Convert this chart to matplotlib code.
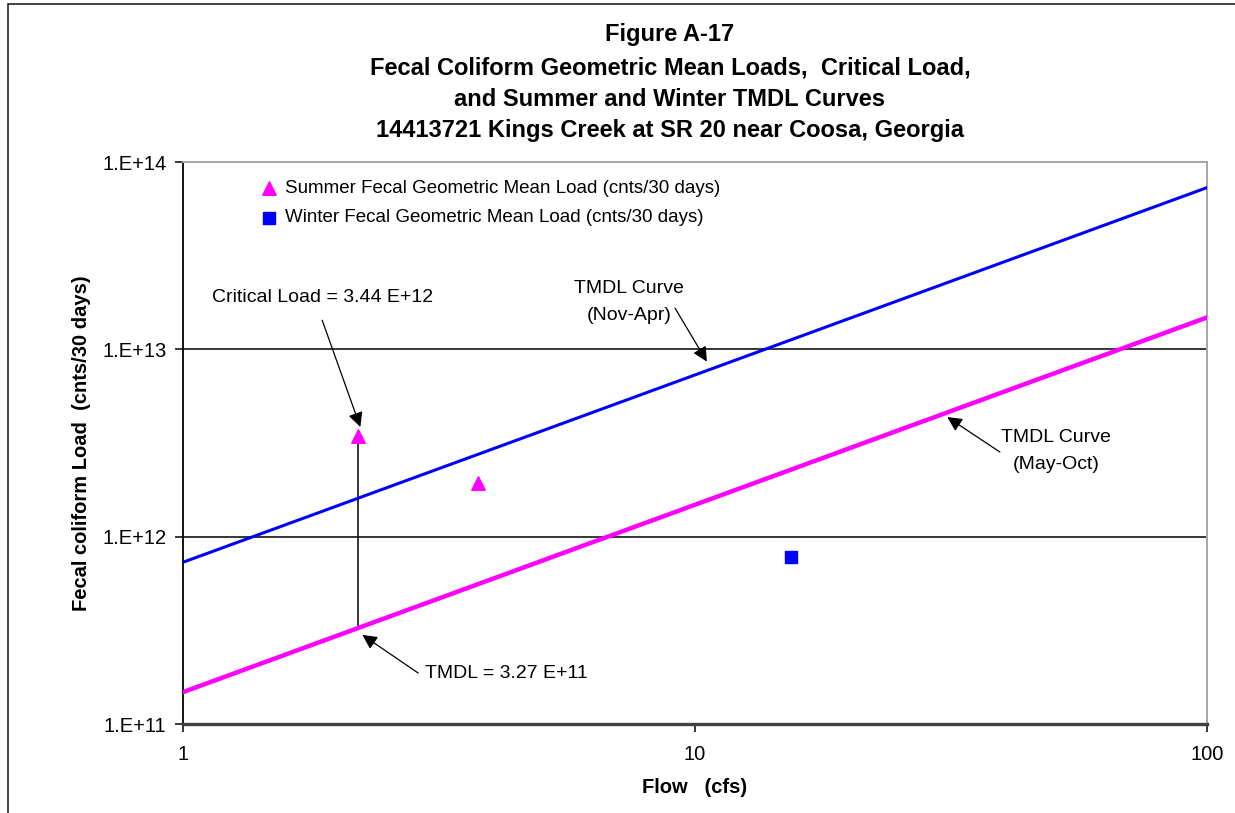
import matplotlib
matplotlib.use("Agg")
import matplotlib.pyplot as plt
from matplotlib.ticker import FixedLocator, NullLocator
from matplotlib.patches import Rectangle

plt.rcParams['font.family'] = ['Liberation Sans', 'DejaVu Sans']

# TMDL curves (load vs flow, end points of each straight line on log-log)
curve_flow = [1, 100]
summer_tmdl = [1.48e11, 1.48e13]
winter_tmdl = [7.3e11, 7.3e13]

# geometric mean loads
summer_flow = [2.2, 3.77]
summer_load = [3.44e12, 1.94e12]
winter_flow = [15.4]
winter_load = [7.8e11]

critical_flow = 2.2
critical_load = 3.44e12
critical_tmdl = 3.27e11

yticks = [1e11, 1e12, 1e13, 1e14]
ytick_labels = ['1.E+11', '1.E+12', '1.E+13', '1.E+14']
xticks = [1, 10, 100]
xtick_labels = ['1', '10', '100']

title_lines = ['Figure A-17',
               'Fecal Coliform Geometric Mean Loads,  Critical Load,',
               'and Summer and Winter TMDL Curves',
               '14413721 Kings Creek at SR 20 near Coosa, Georgia']

fig = plt.figure(figsize=(12.35, 8.13), dpi=100)
ax = fig.add_axes([183/1235, 1 - 724/813, 1024/1235, 562/813])

# outer frame round the whole chart
fig.patches.append(Rectangle((8/1235, -0.1), 1.2, 1 - 4/813 + 0.1, transform=fig.transFigure,
                             fill=False, edgecolor='#222222', linewidth=1.2))

ax.set_xscale('log')
ax.set_yscale('log')
ax.set_xlim(1, 100)
ax.set_ylim(1e11, 1e14)

for y in [1e12, 1e13]:
    ax.axhline(y, color='black', linewidth=1.1, zorder=1)

ax.plot(curve_flow, winter_tmdl, color='#0000ff', linewidth=2.2, zorder=3)
ax.plot(curve_flow, summer_tmdl, color='#ff00ff', linewidth=3.2, zorder=3)

ax.plot([critical_flow, critical_flow], [critical_tmdl, critical_load],
        color='black', linewidth=1.1, zorder=2)

ax.scatter(summer_flow, summer_load, marker='^', s=95, color='#ff00ff', zorder=4,
           label='Summer Fecal Geometric Mean Load (cnts/30 days)')
ax.scatter(winter_flow, winter_load, marker='s', s=80, color='#0000ff', zorder=4,
           label='Winter Fecal Geometric Mean Load (cnts/30 days)')

ax.legend(loc='upper left', bbox_to_anchor=(0.075, 0.969), frameon=False,
          fontsize=13.5, handletextpad=0.35, handlelength=1.0, scatterpoints=1,
          labelspacing=0.68, borderaxespad=0, borderpad=0)

# callouts
def callout(start, tip):
    ax.annotate('', xy=tip, xytext=start,
                arrowprops=dict(arrowstyle='-|>', color='black', linewidth=0.9,
                                mutation_scale=22, shrinkA=0, shrinkB=0))

ax.text(1.14, 1.9e13, 'Critical Load = 3.44 E+12', fontsize=14, ha='left', va='center')
callout((1.87, 1.43e13), (2.22, 3.85e12))

ax.text(2.97, 1.87e11, 'TMDL = 3.27 E+11', fontsize=14, ha='left', va='center')
callout((2.88, 1.87e11), (2.24, 2.99e11))

ax.text(7.43, 1.79e13, 'TMDL Curve\n(Nov-Apr)', fontsize=14, ha='center', va='center',
        linespacing=1.8)
callout((9.14, 1.66e13), (10.55, 8.6e12))

ax.text(50.7, 2.87e12, 'TMDL Curve\n(May-Oct)', fontsize=14, ha='center', va='center',
        linespacing=1.8)
callout((39.4, 2.83e12), (31.1, 4.35e12))

ax.xaxis.set_major_locator(FixedLocator(xticks))
ax.xaxis.set_minor_locator(NullLocator())
ax.set_xticklabels(xtick_labels, fontsize=14.5)
ax.yaxis.set_major_locator(FixedLocator(yticks))
ax.yaxis.set_minor_locator(NullLocator())
ax.set_yticklabels(ytick_labels, fontsize=14.5)
ax.tick_params(axis='both', direction='out', length=6, width=1.1, color='black', pad=6)
ax.tick_params(axis='x', pad=9)

ax.spines['left'].set_color('black')
ax.spines['left'].set_linewidth(1.3)
ax.spines['bottom'].set_color('#404040')
ax.spines['bottom'].set_linewidth(2.4)
ax.spines['top'].set_color('#a6a6a6')
ax.spines['top'].set_linewidth(1.4)
ax.spines['right'].set_color('#a6a6a6')
ax.spines['right'].set_linewidth(1.4)

ax.set_xlabel('Flow   (cfs)', fontsize=14.5, fontweight='bold', labelpad=10)
ax.set_ylabel('Fecal coliform Load  (cnts/30 days)', fontsize=14.5, fontweight='bold',
              labelpad=8)

for line, ypix in zip(title_lines, [34, 68, 100, 131]):
    fig.text(670/1235, 1 - ypix/813, line, ha='center', va='center', fontsize=17,
             fontweight='bold')

fig.savefig('out.png', dpi=100)
